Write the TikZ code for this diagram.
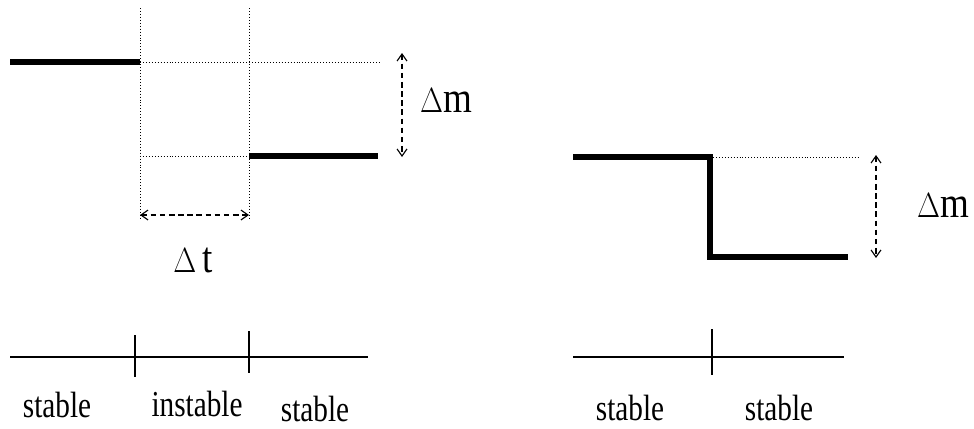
\documentclass[tikz,border=0pt]{standalone}
\usepackage{fontspec}
\setmainfont{Liberation Serif}
\usetikzlibrary{positioning,calc,arrows.meta}
\newcommand{\narrowtxt}[1]{\scalebox{0.8}[1]{#1}}
\newcommand{\deltatxt}[1]{\scalebox{0.85}[1]{#1}}

\begin{document}
\begin{tikzpicture}[x=0.025cm, y=-0.025cm,
	level/.style={line width=4.3pt},
	guide/.style={line width=0.7pt, dash pattern=on 0.7pt off 1.4pt},
	span/.style={line width=0.8pt, dash pattern=on 4pt off 2.5pt,
		{Straight Barb[length=5pt,width=7pt]}-{Straight Barb[length=5pt,width=7pt]}},
	axis/.style={line width=1.2pt},
	tickmark/.style={line width=1pt},
	lbl/.style={font=\fontsize{26}{30}\selectfont, inner sep=0pt, anchor=base},
	dlbl/.style={font=\fontsize{31}{36}\selectfont, inner sep=0pt, anchor=base}]
	\useasboundingbox (0,0) rectangle (974,428);

	% left: step through an unstable phase
	\coordinate (a1) at (10,62);
	\coordinate (a2) at ($(a1)+(130,0)$);
	\coordinate (a3) at ($(a2)+(109,0)$);
	\coordinate (a4) at ($(a2)+(240,0)$);
	\coordinate (b1) at ($(a2)+(0,94)$);
	\coordinate (b2) at ($(a3)+(0,94)$);
	\coordinate (b3) at ($(b2)+(129,0)$);
	\coordinate (v1) at (140,8);
	\coordinate (v2) at (140,220);
	\coordinate (w1) at (249,8);
	\coordinate (w2) at (249,220);
	\coordinate (m1) at (402,53);
	\coordinate (m2) at (402,157);
	\coordinate (t1) at (140,215);
	\coordinate (t2) at (249,215);

	\draw[guide] (v1) -- (v2);
	\draw[guide] (w1) -- (w2);
	\draw[guide] (a2) -- (a4);
	\draw[guide] (b1) -- (b2);
	\draw[level] (a1) -- (a2);
	\draw[level] (b2) -- (b3);
	\draw[span] (m1) -- (m2);
	\draw[span] (t1) -- (t2);

	\node[dlbl] (dm1) at (446,112) {\deltatxt{$\Delta$m}};
	\node[dlbl] (dt) at (193,272) {\deltatxt{$\Delta$\,t}};

	% right: immediate step
	\coordinate (c1) at (573,157);
	\coordinate (c2) at (710,157);
	\coordinate (c3) at (710,257);
	\coordinate (c4) at (848,257);
	\coordinate (c5) at (858,157);
	\coordinate (n1) at (876,155);
	\coordinate (n2) at (876,258);

	\draw[guide] (c2) -- (c5);
	\draw[level, line join=miter] (c1) -- (c2) -- (c3) -- (c4);
	\draw[span] (n1) -- (n2);

	\node[dlbl] (dm2) at (943,217) {\deltatxt{$\Delta$m}};

	% time axes
	\coordinate (x1) at (10,357);
	\coordinate (x2) at (368,357);
	\coordinate (p1) at (135,335);
	\coordinate (p2) at (135,377);
	\coordinate (q1) at (249,331);
	\coordinate (q2) at (249,373);
	\coordinate (y1) at (573,357);
	\coordinate (y2) at (844,357);
	\coordinate (r1) at (712,329);
	\coordinate (r2) at (712,375);

	\draw[axis] (x1) -- (x2);
	\draw[axis] (y1) -- (y2);
	\draw[tickmark] (p1) -- (p2);
	\draw[tickmark] (q1) -- (q2);
	\draw[tickmark] (r1) -- (r2);

	\node[lbl] (s1) at (57,417) {\narrowtxt{stable}};
	\node[lbl] (s2) at (197,416) {\narrowtxt{instable}};
	\node[lbl] (s3) at (315,421) {\narrowtxt{stable}};
	\node[lbl] (s4) at (630,420) {\narrowtxt{stable}};
	\node[lbl] (s5) at (779,420) {\narrowtxt{stable}};
\end{tikzpicture}
\end{document}
